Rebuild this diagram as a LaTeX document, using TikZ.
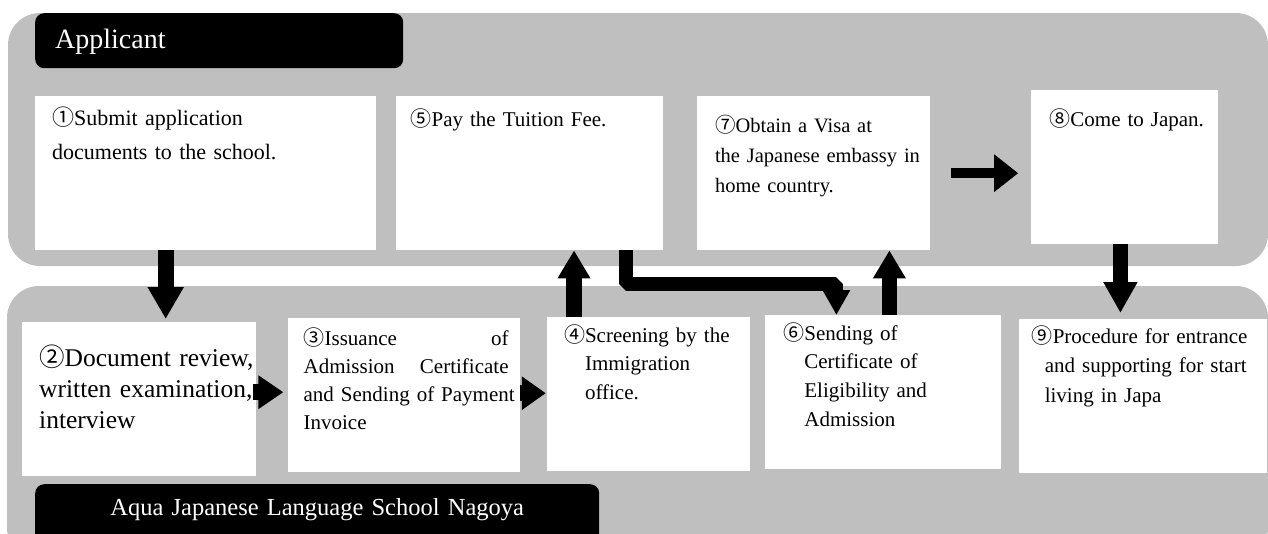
\documentclass[tikz,border=0pt]{standalone}
\usepackage{fontspec}
\setmainfont{Liberation Serif}
\newfontfamily\cjk{Noto Sans CJK JP}
\usetikzlibrary{positioning}
\usetikzlibrary{arrows.meta}

\definecolor{panelgray}{RGB}{191,191,191}
\newcommand{\cn}[1]{{\cjk #1}}
\newcommand{\stepind}{\hspace*{21pt}}

\begin{document}
\begin{tikzpicture}[x=1pt,y=-1pt,
    panel/.style={fill=panelgray,rounded corners=32pt},
    tab/.style={fill=black,text=white,rounded corners=9pt,inner sep=0pt,align=left},
    stepbox/.style={fill=white,inner sep=0pt,align=left,font=\fontsize{21}{29}\selectfont},
    lpad/.style={execute at begin node={\leftskip=#1}},
    bigarrow/.style={line width=16pt,-{Triangle[length=28pt,width=32pt]}}]
    \path[use as bounding box,clip] (0,0) rectangle (1268,533);

    % the two lanes
    \path[panel] (8,13) rectangle (1268,266);
    \path[panel] (7,286) rectangle (1268,560);

    \node[tab,anchor=north west,text width=368pt,lpad=20pt,text height=35pt,text depth=20pt,
          font=\fontsize{28}{32}\selectfont] (applicant) at (35,13) {Applicant};
    \node[tab,anchor=north west,text width=564pt,align=center,text height=31pt,text depth=30pt,
          font=\fontsize{24.5}{30}\selectfont] (school) at (35,484) {Aqua Japanese Language School Nagoya};

    % applicant side
    \node[stepbox,anchor=north west,text width=341pt,lpad=17pt,text height=29pt,text depth=125pt,
          font=\fontsize{22}{34}\selectfont] (apply) at (35,96)
          {\cn{①}Submit application\\documents to the school.};
    \node[stepbox,right=19pt of apply,text width=267pt,lpad=15pt,text height=30pt,text depth=124pt] (pay)
          {\cn{⑤}Pay the Tuition Fee.};
    \node[stepbox,right=34pt of pay,text width=233pt,lpad=18pt,text height=36pt,text depth=118pt,
          font=\fontsize{20.5}{30}\selectfont] (visa)
          {\cn{⑦}Obtain a Visa at\\the Japanese embassy in\\home country.};
    \node[stepbox,right=101pt of visa,yshift=6pt,text width=187pt,lpad=18pt,text height=36pt,text depth=118pt] (come)
          {\cn{⑧}Come to Japan.};

    % school side
    \node[stepbox,anchor=north west,text width=234pt,lpad=17pt,text height=44pt,text depth=110pt,
          font=\fontsize{25.5}{31}\selectfont] (review) at (22,322)
          {\cn{②}Document review,\\written examination,\\interview};
    \node[stepbox,right=31pt of review,yshift=4pt,text width=232pt,lpad=16pt,text height=27pt,text depth=127pt,
          font=\fontsize{21}{28}\selectfont] (issue)
          {\makebox[205pt][l]{\cn{③}Issuance\hfill of}\\\makebox[205pt][l]{Admission\hfill Certificate}\\and Sending of Payment\\Invoice};
    \node[stepbox,right=27pt of issue,yshift=1pt,text width=203pt,lpad=17pt,text height=25pt,text depth=129pt,
          font=\fontsize{21}{28.5}\selectfont] (screen)
          {\cn{④}Screening by the\\\stepind Immigration\\\stepind office.};
    \node[stepbox,right=15pt of screen,yshift=2pt,text width=236pt,lpad=18pt,text height=25pt,text depth=129pt,
          font=\fontsize{21}{28.7}\selectfont] (coe)
          {\cn{⑥}Sending of\\\stepind Certificate of\\\stepind Eligibility and\\\stepind Admission};
    \node[stepbox,right=17pt of coe,yshift=-4pt,text width=248pt,lpad=13pt,text height=24pt,text depth=130pt,
          font=\fontsize{21}{29.5}\selectfont] (entry)
          {\cn{⑨}Procedure for entrance\\\hspace*{13pt}and supporting for start\\\hspace*{13pt}living in Japa};

    % flow
    \draw[bigarrow,-{Triangle[length=32pt,width=34pt]},shorten >=3pt]
        ([xshift=-40pt]apply.south) -- ([xshift=-40pt]apply.south |- review.north);
    \draw[bigarrow,-{Triangle[length=25pt,width=32pt]},shorten >=4pt]
        ([yshift=7pt,xshift=-3pt]review.east) -- ([yshift=7pt]review.east -| issue.west);
    \draw[bigarrow,-{Triangle[length=24pt,width=32pt]},shorten >=1pt]
        ([yshift=2pt]issue.east) -- ([yshift=2pt]issue.east -| screen.west);
    \draw[bigarrow,-{Triangle[length=28pt,width=31pt]}]
        ([xshift=-74.5pt]screen.north) -- ([xshift=-74.5pt]screen.north |- pay.south);
    \draw[bigarrow,line width=14pt,line join=bevel,-{Triangle[length=25pt,width=26pt]}]
        ([xshift=96.5pt]pay.south) -- ++(0,34) -| ([xshift=-47pt]coe.north);
    \draw[bigarrow,line width=15pt,-{Triangle[length=28pt,width=31pt]}]
        ([xshift=6pt]coe.north) -- ([xshift=6pt]coe.north |- visa.south);
    \draw[bigarrow,line width=10pt,-{Triangle[length=24pt,width=36pt]},shorten <=21pt,shorten >=13pt]
        (visa.east) -- (visa.east -| come.west);
    \draw[bigarrow,line width=15pt,-{Triangle[length=31pt,width=32pt]},shorten >=6pt]
        ([xshift=-4.5pt]come.south) -- ([xshift=-4.5pt]come.south |- entry.north);
\end{tikzpicture}
\end{document}
